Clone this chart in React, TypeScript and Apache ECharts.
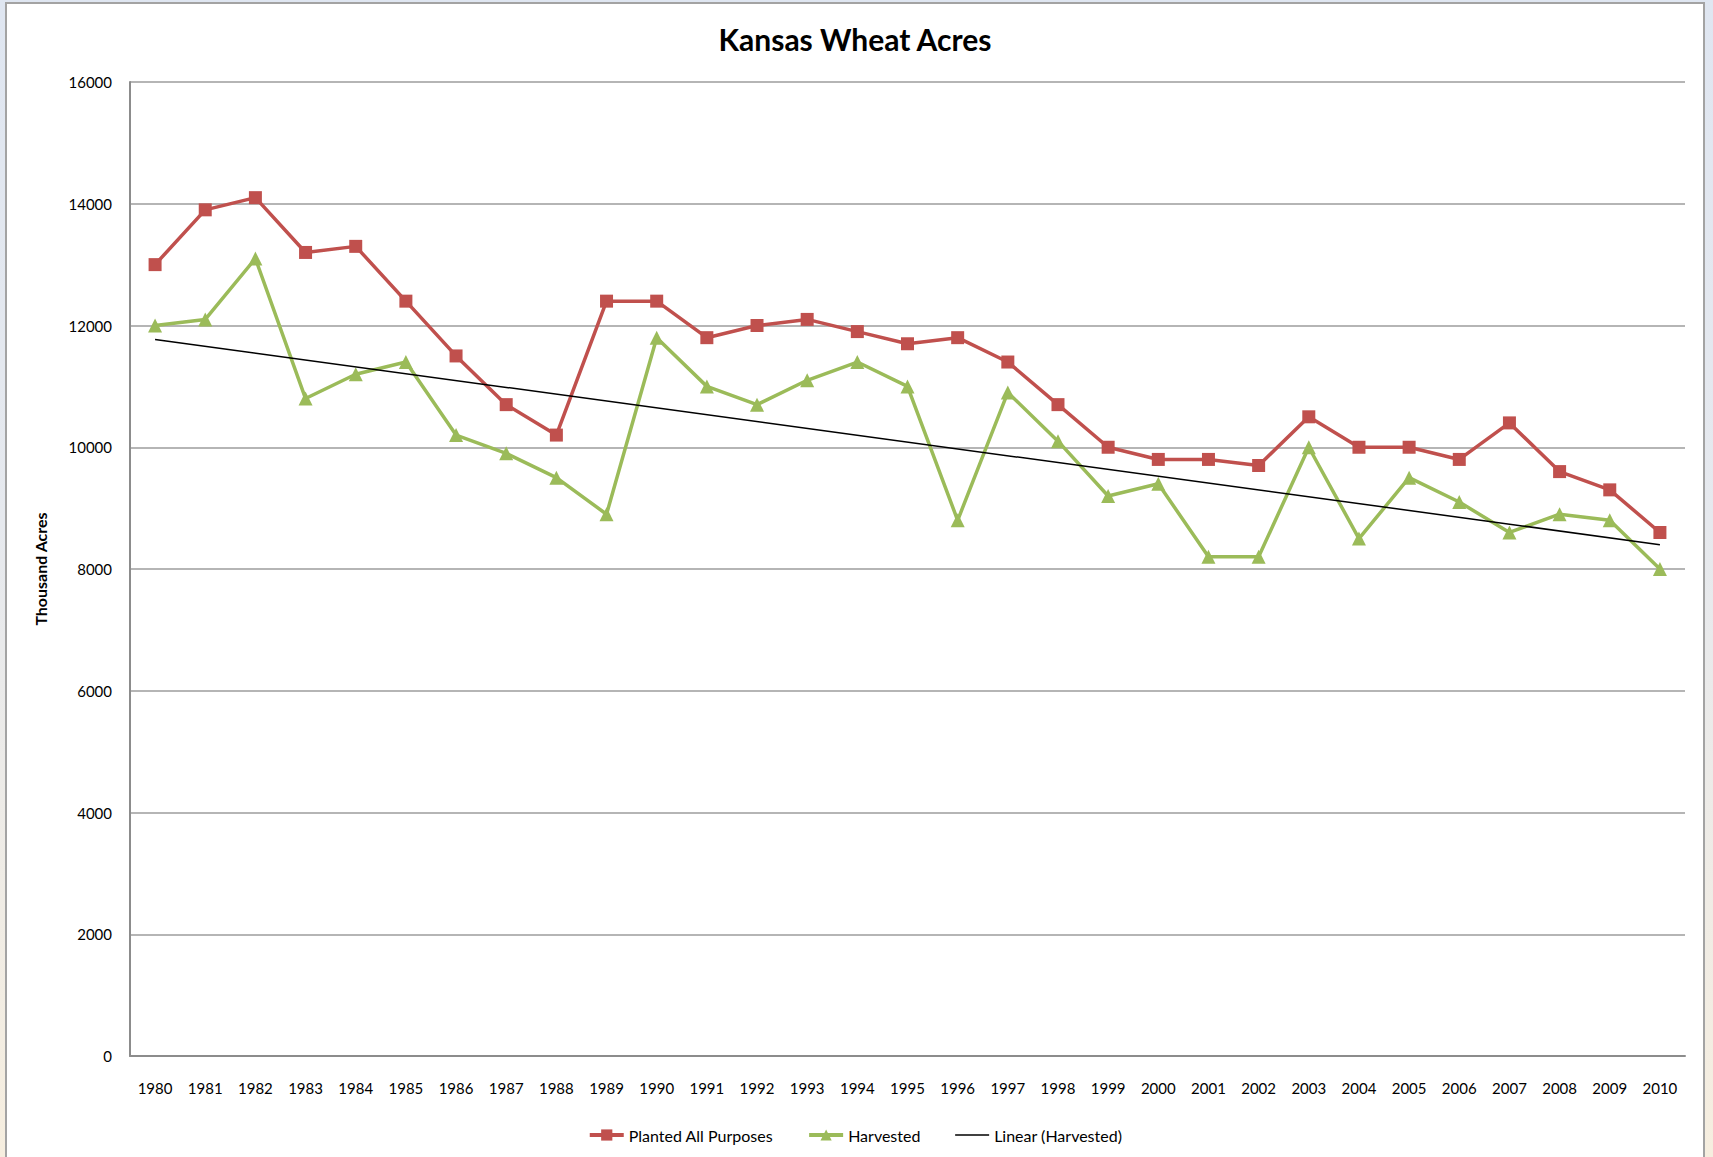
import React, { useEffect, useRef } from "react";
import * as echarts from "echarts";

const years = [
  "1980", "1981", "1982", "1983", "1984", "1985", "1986", "1987", "1988", "1989",
  "1990", "1991", "1992", "1993", "1994", "1995", "1996", "1997", "1998", "1999",
  "2000", "2001", "2002", "2003", "2004", "2005", "2006", "2007", "2008", "2009", "2010",
];

const planted = [
  13000, 13900, 14100, 13200, 13300, 12400, 11500, 10700, 10200, 12400,
  12400, 11800, 12000, 12100, 11900, 11700, 11800, 11400, 10700, 10000,
  9800, 9800, 9700, 10500, 10000, 10000, 9800, 10400, 9600, 9300, 8600,
];

const harvested = [
  12000, 12100, 13100, 10800, 11200, 11400, 10200, 9900, 9500, 8900,
  11800, 11000, 10700, 11100, 11400, 11000, 8800, 10900, 10100, 9200,
  9400, 8200, 8200, 10000, 8500, 9500, 9100, 8600, 8900, 8800, 8000,
];

// Linear trend of Harvested: values read at first and last year
const trendEnds = [11770, 8400];

const yTicks = { min: 0, max: 16000, interval: 2000 };

const FONT = "Lato, 'Open Sans', sans-serif";

export default function App() {
  const ref = useRef<HTMLDivElement>(null);

  useEffect(() => {
    if (!ref.current) return;
    const chart = echarts.init(ref.current, undefined, { renderer: "svg" });
    const trendData = years.map((_, i) =>
      i === 0 ? trendEnds[0] : i === years.length - 1 ? trendEnds[1] : null
    );
    chart.setOption({
      animation: false,
      backgroundColor: "#ffffff",
      textStyle: { fontFamily: FONT },
      title: {
        text: "Kansas Wheat Acres",
        left: "center",
        top: 15,
        textStyle: { fontFamily: FONT, fontSize: 30, fontWeight: "bold", color: "#000" },
      },
      grid: { left: 123, top: 78, width: 1555, height: 974 },
      legend: {
        top: 1118,
        left: "center",
        itemGap: 34,
        itemWidth: 34,
        itemHeight: 14,
        textStyle: { fontFamily: FONT, fontSize: 16, color: "#000" },
        data: [
          { name: "Planted All Purposes", lineStyle: { width: 4 } },
          { name: "Harvested", lineStyle: { width: 4 } },
          { name: "Linear (Harvested)", itemStyle: { opacity: 0 }, lineStyle: { width: 1.5 } },
        ],
      },
      xAxis: {
        type: "category",
        data: years,
        boundaryGap: true,
        axisLine: { lineStyle: { color: "#8c8c8c", width: 2 } },
        axisTick: { show: false },
        axisLabel: { color: "#000", fontSize: 15, margin: 24, fontFamily: FONT, interval: 0 },
      },
      yAxis: {
        type: "value",
        min: yTicks.min,
        max: yTicks.max,
        interval: yTicks.interval,
        name: "Thousand Acres",
        nameLocation: "middle",
        nameGap: 82,
        nameTextStyle: { fontFamily: FONT, fontSize: 16, fontWeight: "bold", color: "#000" },
        axisLine: { show: true, lineStyle: { color: "#8c8c8c", width: 2 } },
        axisTick: { show: false },
        axisLabel: {
          color: "#000",
          fontSize: 15,
          margin: 18,
          fontFamily: FONT,
          formatter: (v: number) => String(v),
        },
        splitLine: { lineStyle: { color: "#9c9c9c", width: 1.5 } },
      },
      series: [
        {
          name: "Planted All Purposes",
          type: "line",
          data: planted,
          symbol: "rect",
          symbolSize: 13,
          lineStyle: { color: "#C0504D", width: 3.5 },
          itemStyle: { color: "#C0504D" },
          z: 3,
        },
        {
          name: "Harvested",
          type: "line",
          data: harvested,
          symbol: "triangle",
          symbolSize: 14,
          lineStyle: { color: "#9BBB59", width: 3.5 },
          itemStyle: { color: "#9BBB59" },
          z: 2,
        },
        {
          name: "Linear (Harvested)",
          type: "line",
          data: trendData,
          connectNulls: true,
          showSymbol: false,
          lineStyle: { color: "#000000", width: 1.5 },
          itemStyle: { color: "#000000" },
          z: 4,
        },
      ],
    });
    return () => chart.dispose();
  }, []);

  return (
    <div
      style={{
        position: "fixed",
        left: 0,
        top: 0,
        width: 1713,
        height: 1157,
        background: "linear-gradient(180deg, #dfe6f1 0%, #e6e9ee 45%, #f6eedf 100%)",
        overflow: "hidden",
      }}
    >
      <div
        style={{
          position: "absolute",
          left: 5,
          top: 2,
          width: 1700,
          height: 1170,
          border: "2px solid #a3a3a3",
          boxSizing: "border-box",
          background: "#fff",
        }}
      >
        <div ref={ref} style={{ width: 1696, height: 1166 }} />
      </div>
    </div>
  );
}
